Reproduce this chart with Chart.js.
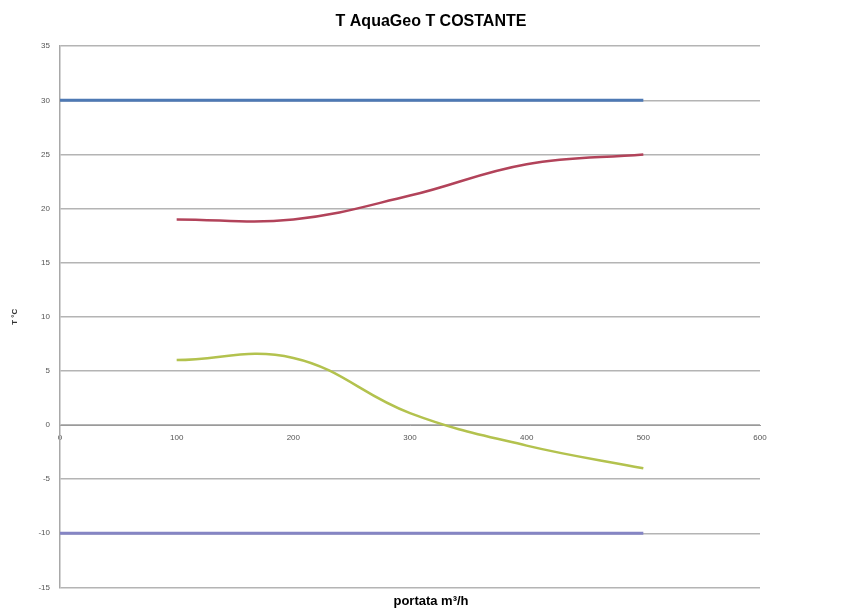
<!DOCTYPE html>
<html>
<head>
<meta charset="utf-8">
<script src="https://cdn.jsdelivr.net/npm/chart.js@4/dist/chart.umd.min.js"></script>
<style>
html,body{margin:0;padding:0;background:#fff;}
#wrap{width:852px;height:610px;position:relative;}
</style>
</head>
<body>
<div id="wrap"><canvas id="c"></canvas></div>
<script>
const portata = [0, 100, 200, 300, 400, 500];
const tMax = [30, 30, 30, 30, 30, 30];
const tMin = [-10, -10, -10, -10, -10, -10];
const portataCurve = [100, 200, 300, 400, 500];
const tRossa = [19, 19, 21.2, 24.1, 25];
const tVerde = [6, 6.2, 1.1, -1.9, -4];
const xTicks = [0, 100, 200, 300, 400, 500, 600];
const yTicks = [-15, -10, -5, 0, 5, 10, 15, 20, 25, 30, 35];

const pts = (xs, ys) => xs.map((x, i) => ({x: x, y: ys[i]}));

new Chart(document.getElementById('c'), {
  type: 'line',
  data: {
    datasets: [
      {data: pts(portata, tMax), borderColor: '#4e79b4', borderWidth: 3, pointRadius: 0, tension: 0},
      {data: pts(portata, tMin), borderColor: '#8585c4', borderWidth: 3, pointRadius: 0, tension: 0},
      {data: pts(portataCurve, tRossa), borderColor: '#b2435a', borderWidth: 2.5, pointRadius: 0, tension: 0.4},
      {data: pts(portataCurve, tVerde), borderColor: '#b3c24e', borderWidth: 2.5, pointRadius: 0, tension: 0.4}
    ]
  },
  options: {
    responsive: true,
    maintainAspectRatio: false,
    animation: false,
    layout: {padding: {left: 10, right: 0, top: 0, bottom: 0}},
    plugins: {
      legend: {display: false},
      tooltip: {enabled: false},
      title: {
        display: true,
        text: 'T AquaGeo T COSTANTE',
        color: '#000',
        font: {family: 'Liberation Sans', size: 16, weight: 'bold'},
        padding: {top: 12, bottom: 15}
      },
      subtitle: {
        display: true,
        position: 'bottom',
        text: 'portata m³/h',
        color: '#000',
        font: {family: 'Liberation Sans', size: 13, weight: 'bold'},
        padding: {top: 6, bottom: 1}
      }
    },
    scales: {
      x: {
        type: 'linear',
        position: {y: 0},
        min: 0, max: 600,
        afterBuildTicks: (s) => { s.ticks = xTicks.map(v => ({value: v})); },
        grid: {display: false, drawTicks: false},
        border: {display: true, color: '#9a9a9a', width: 1},
        ticks: {color: '#555', font: {family: 'Liberation Sans', size: 8}, padding: 8, maxRotation: 0}
      },
      y: {
        type: 'linear',
        min: -15, max: 35,
        afterBuildTicks: (s) => { s.ticks = yTicks.map(v => ({value: v})); },
        afterFit: (s) => { s.width = 50; },
        grid: {color: '#b4b4b4', lineWidth: 1.5, drawTicks: false},
        border: {display: true, color: '#a8a8a8', width: 1.5},
        ticks: {color: '#555', font: {family: 'Liberation Sans', size: 8}, padding: 10},
        title: {display: true, text: 'T °C', color: '#333', font: {family: 'Liberation Sans', size: 8, weight: 'bold'}, padding: {top: 0, bottom: 0}}
      },
      yRight: {
        type: 'linear',
        position: 'right',
        min: -15, max: 35,
        afterFit: (s) => { s.width = 92; },
        grid: {display: false, drawTicks: false},
        border: {display: false},
        ticks: {display: false}
      }
    }
  }
});
</script>
</body>
</html>
